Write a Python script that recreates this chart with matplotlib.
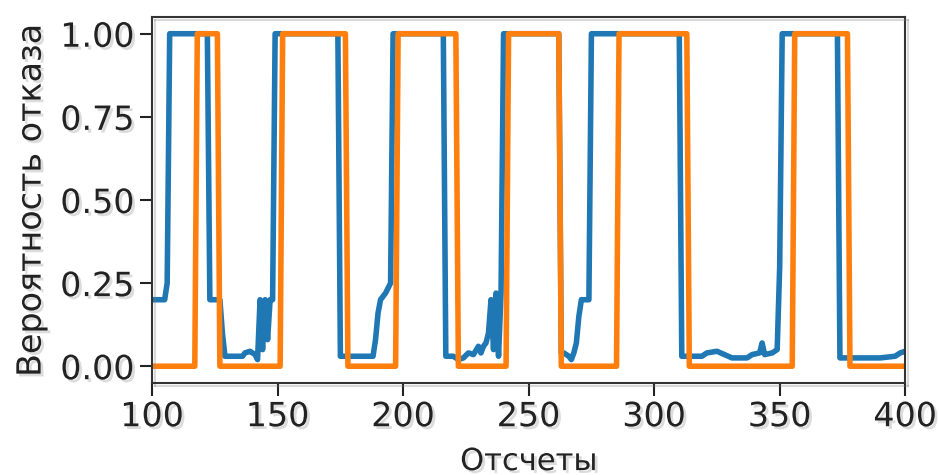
# -*- coding: utf-8 -*-

import numpy as np
from matplotlib import pyplot as plt
from matplotlib import patheffects as pe

"BLUE: PREDICTED PROBABILITY (vertices read off the picture)"
blue_x = [100, 105, 106, 107, 122, 123, 127, 128, 129, 136, 137, 139, 140, 141, 142,
          143, 144, 145, 146, 147, 148, 149, 174, 175, 188, 189, 190, 191, 193, 195,
          196, 216, 217, 220, 222, 224, 226, 228, 230, 231, 232, 233, 234, 235, 236,
          237, 238, 239, 240, 262, 263, 264, 266, 267, 268, 269, 270, 271, 274, 275,
          310, 311, 319, 321, 325, 328, 331, 337, 339, 342, 343, 344, 347, 349, 350,
          351, 373, 374, 390, 396, 398, 400]
blue_y = [0.20, 0.20, 0.25, 1.00, 1.00, 0.20, 0.20, 0.10, 0.03, 0.03, 0.04, 0.045, 0.04, 0.035, 0.02,
          0.20, 0.05, 0.20, 0.08, 0.20, 0.20, 1.00, 1.00, 0.03, 0.03, 0.08, 0.16, 0.20, 0.22, 0.25,
          1.00, 1.00, 0.03, 0.03, 0.02, 0.025, 0.04, 0.035, 0.06, 0.04, 0.06, 0.07, 0.10, 0.20, 0.05,
          0.22, 0.03, 0.22, 1.00, 1.00, 0.04, 0.04, 0.03, 0.02, 0.04, 0.07, 0.15, 0.20, 0.20, 1.00,
          1.00, 0.03, 0.03, 0.04, 0.045, 0.035, 0.025, 0.025, 0.035, 0.04, 0.07, 0.035, 0.04, 0.05, 0.30,
          1.00, 1.00, 0.025, 0.025, 0.03, 0.04, 0.045]

"ORANGE: TRUE FAILURE STATE"
orange_x = [100, 117, 118, 126, 127, 151, 152, 177, 178, 197, 198, 221, 222, 241, 242,
            262, 263, 285, 286, 313, 314, 355, 356, 377, 378, 400]
orange_y = [0, 0, 1, 1, 0, 0, 1, 1, 0, 0, 1, 1, 0, 0, 1,
            1, 0, 0, 1, 1, 0, 0, 1, 1, 0, 0]

"PLOT OPTIONS"
linWidth = 4
fs = 24
shadow = [pe.withSimplePatchShadow(offset=(2, -2), shadow_rgbFace='0.55', alpha=0.3)]

fig1 = plt.figure(figsize=(9.39, 4.75), dpi=100)
ax1 = fig1.add_axes([0.162, 0.194, 0.802, 0.770])
ax1.plot(blue_x, blue_y, color='#1f77b4', linewidth=linWidth)
ax1.plot(orange_x, orange_y, color='#ff7f0e', linewidth=linWidth)
ax1.set_xlim(100, 400)
ax1.set_ylim(-0.05, 1.05)
ax1.set_xticks([100, 150, 200, 250, 300, 350, 400])
ax1.set_yticks([0.0, 0.25, 0.5, 0.75, 1.0])
ax1.set_yticklabels(['0.00', '0.25', '0.50', '0.75', '1.00'])
ax1.tick_params(labelsize=fs, length=9, width=1.5, colors='#222222')
ax1.set_ylabel('Вероятность отказа', fontsize=24, color='#222222', labelpad=9)
ax1.set_xlabel('Отсчеты', fontsize=22, color='#222222', labelpad=10)
for sp in ax1.spines.values():
    sp.set_linewidth(1.5)
    sp.set_color('#333333')
    sp.set_path_effects([pe.SimpleLineShadow(offset=(2, -2), shadow_color='0.5', alpha=0.3), pe.Normal()])
for t in ax1.get_xticklabels() + ax1.get_yticklabels() + [ax1.xaxis.label, ax1.yaxis.label]:
    t.set_path_effects(shadow)

fig1.savefig('out.png', dpi=100)
